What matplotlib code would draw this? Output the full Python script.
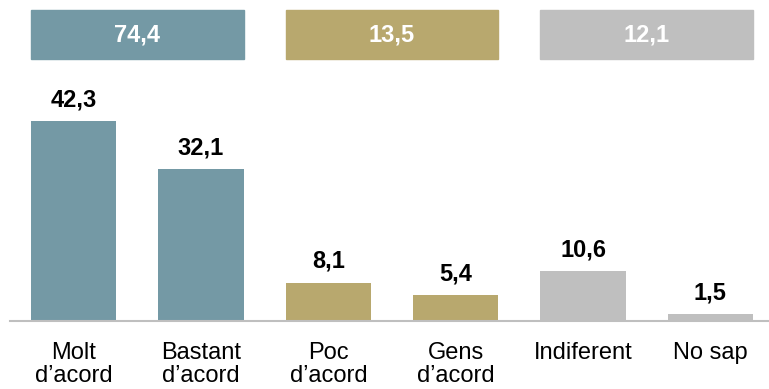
import matplotlib.pyplot as plt
from matplotlib.patches import Rectangle
from matplotlib.transforms import blended_transform_factory

plt.rcParams['font.family'] = ['Liberation Sans', 'DejaVu Sans']

# Dades
categories = ["Molt\nd\u2019acord", "Bastant\nd\u2019acord", "Poc\nd\u2019acord",
              "Gens\nd\u2019acord", "Indiferent", "No sap"]
values = [42.3, 32.1, 8.1, 5.4, 10.6, 1.5]
group_totals = [74.4, 13.5, 12.1]
group_colors = ["#7499A5", "#B8A86E", "#BFBFBF"]
bar_colors = [group_colors[i // 2] for i in range(len(values))]

fig = plt.figure(figsize=(7.69, 3.89), dpi=100)
ax = fig.add_axes([0.013, 0.175, 0.987, 0.671])

x = range(len(values))
ax.bar(x, values, width=0.67, color=bar_colors)
ax.set_xlim(-0.5, 5.46)
ax.set_ylim(0, 55.2)

for xi, v in zip(x, values):
    ax.annotate(f"{v:.1f}".replace(".", ","), (xi, v), xytext=(0, 7),
                textcoords="offset points", ha="center", va="bottom",
                fontsize=17, fontweight="bold")

# Caixes amb els totals de cada grup
trans = blended_transform_factory(ax.transData, fig.transFigure)
for i, (tot, col) in enumerate(zip(group_totals, group_colors)):
    x0 = 2 * i - 0.335
    ax.add_patch(Rectangle((x0, 0.848), 1.67, 0.126, transform=trans,
                           color=col, clip_on=False))
    ax.text(2 * i + 0.5, 0.911, f"{tot:.1f}".replace(".", ","), transform=trans,
            ha="center", va="center", color="white", fontsize=17,
            fontweight="bold")

ax.set_xticks(list(x))
ax.set_xticklabels(categories, fontsize=17, linespacing=1.1, va="top")
ax.tick_params(axis="x", length=0, pad=15)
ax.set_yticks([])
for s in ["top", "right", "left"]:
    ax.spines[s].set_visible(False)
ax.spines["bottom"].set_color("#BFBFBF")
ax.spines["bottom"].set_linewidth(1.5)

fig.savefig("out.png", dpi=100)
